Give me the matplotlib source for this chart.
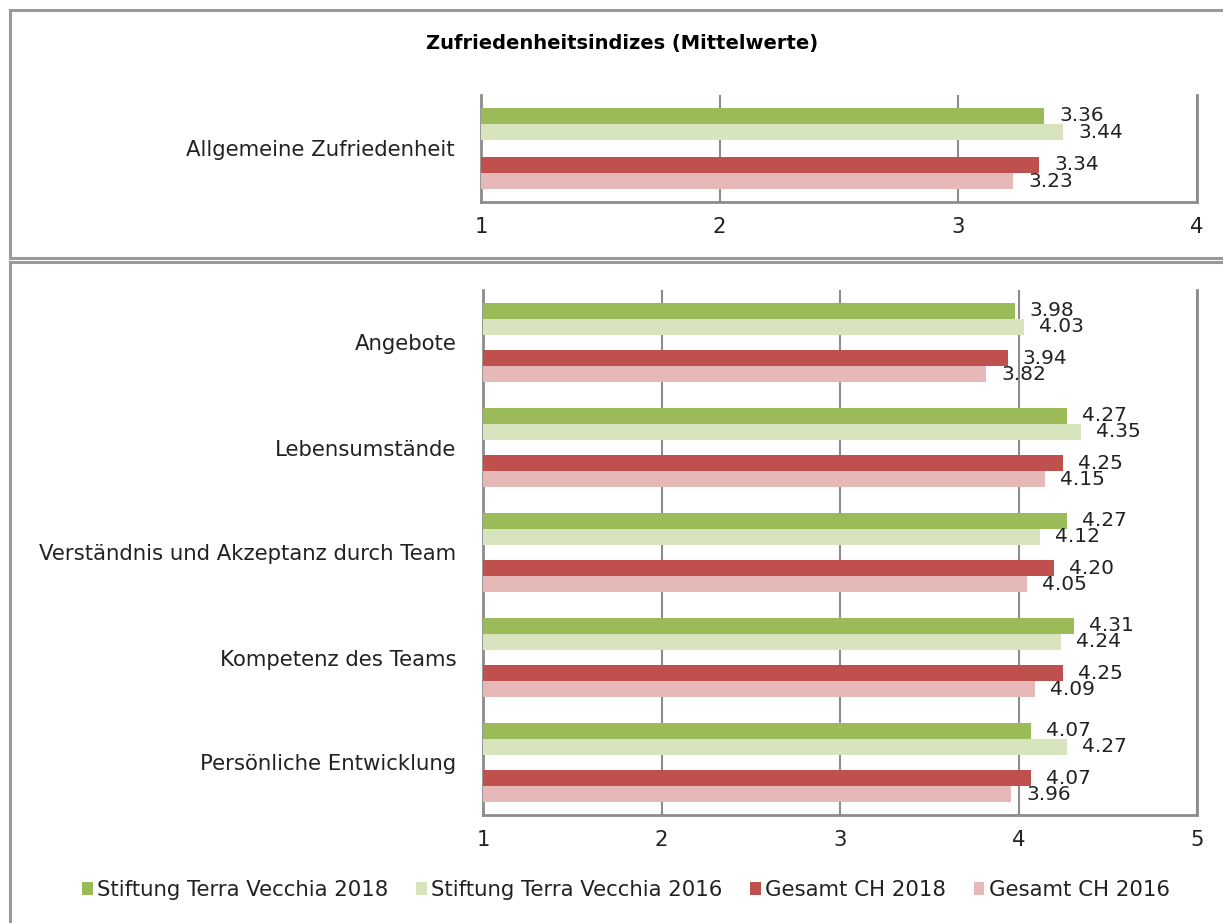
import matplotlib
matplotlib.use("Agg")
import matplotlib.pyplot as plt
import numpy as np
from matplotlib.patches import Patch
from matplotlib.lines import Line2D

plt.rcParams['font.family'] = ['DejaVu Sans']

# data
series = ['Stiftung Terra Vecchia 2018', 'Stiftung Terra Vecchia 2016',
          'Gesamt CH 2018', 'Gesamt CH 2016']
colors = ['#9BBB59', '#D7E4BD', '#C0504D', '#E6B9B8']

top_cats = ['Allgemeine Zufriedenheit']
top_tv18 = [3.36]
top_tv16 = [3.44]
top_ch18 = [3.34]
top_ch16 = [3.23]

cats = ['Angebote', 'Lebensumstände', 'Verständnis und Akzeptanz durch Team',
        'Kompetenz des Teams', 'Persönliche Entwicklung']
tv18 = [3.98, 4.27, 4.27, 4.31, 4.07]
tv16 = [4.03, 4.35, 4.12, 4.24, 4.27]
ch18 = [3.94, 4.25, 4.20, 4.25, 4.07]
ch16 = [3.82, 4.15, 4.05, 4.09, 3.96]

W, H = 1223, 923
fig = plt.figure(figsize=(W / 100, H / 100), dpi=100)

grey = '#8C8C8C'
FS = 15.3      # axis / legend text
VFS = 14.5     # value labels
TXT = '#222222'


def draw_panel(ax, labels, vals, xmax):
    h = 0.152
    offs = [-2 * h, -h, h, 2 * h]
    y = np.arange(len(labels))
    for v, c, o in zip(vals, colors, offs):
        bars = ax.barh(y + o, np.array(v) - 1, left=1, height=h, color=c, zorder=3)
        for b, val in zip(bars, v):
            ax.annotate(f'{val:.2f}', (val, b.get_y() + h / 2), xytext=(15, 0),
                        textcoords='offset pixels',
                        va='center', ha='left', fontsize=VFS, color=TXT)
    ax.set_ylim(len(labels) - 0.5, -0.5)
    ax.set_xlim(1, xmax)
    ax.set_xticks(range(1, xmax + 1))
    ax.set_yticks(y)
    ax.set_yticklabels(labels, fontsize=FS, color=TXT)
    ax.tick_params(axis='both', length=0, labelsize=FS, colors=TXT)
    ax.tick_params(axis='x', pad=11)
    ax.tick_params(axis='y', pad=19)
    ax.grid(axis='x', color=grey, linewidth=1.5, zorder=0)
    ax.spines['top'].set_visible(False)
    for s in ['left', 'bottom', 'right']:
        ax.spines[s].set_color(grey)
        ax.spines[s].set_linewidth(2)


ax1 = fig.add_axes([481 / W, 1 - 202 / H, (1197 - 481) / W, 107 / H])
draw_panel(ax1, top_cats, [top_tv18, top_tv16, top_ch18, top_ch16], 4)

ax2 = fig.add_axes([483 / W, 1 - 815 / H, (1197 - 483) / W, 525 / H])
draw_panel(ax2, cats, [tv18, tv16, ch18, ch16], 5)

fig.text(622 / W, 1 - 43 / H, 'Zufriedenheitsindizes (Mittelwerte)',
         ha='center', va='center', fontsize=14, fontweight='bold')

# chart frames
frame_kw = dict(transform=fig.transFigure, color='#999999', linewidth=2.2)
fig.add_artist(Line2D([10 / W, 10 / W], [1 - 10 / H, 1 - 258 / H], **frame_kw))
fig.add_artist(Line2D([10 / W, 1.0], [1 - 10 / H, 1 - 10 / H], **frame_kw))
fig.add_artist(Line2D([10 / W, 1.0], [1 - 258 / H, 1 - 258 / H], **frame_kw))
fig.add_artist(Line2D([10 / W, 1.0], [1 - 262 / H, 1 - 262 / H], **frame_kw))
fig.add_artist(Line2D([10 / W, 10 / W], [1 - 262 / H, 0], **frame_kw))

handles = [Patch(facecolor=c, edgecolor='none') for c in colors]
fig.legend(handles, series, loc='center', bbox_to_anchor=(626 / W, 1 - 890 / H),
           ncol=4, frameon=False, fontsize=FS, handlelength=0.5, handleheight=0.5,
           handletextpad=0.2, columnspacing=1.3, labelcolor=TXT)

fig.savefig('out.png', dpi=100)
